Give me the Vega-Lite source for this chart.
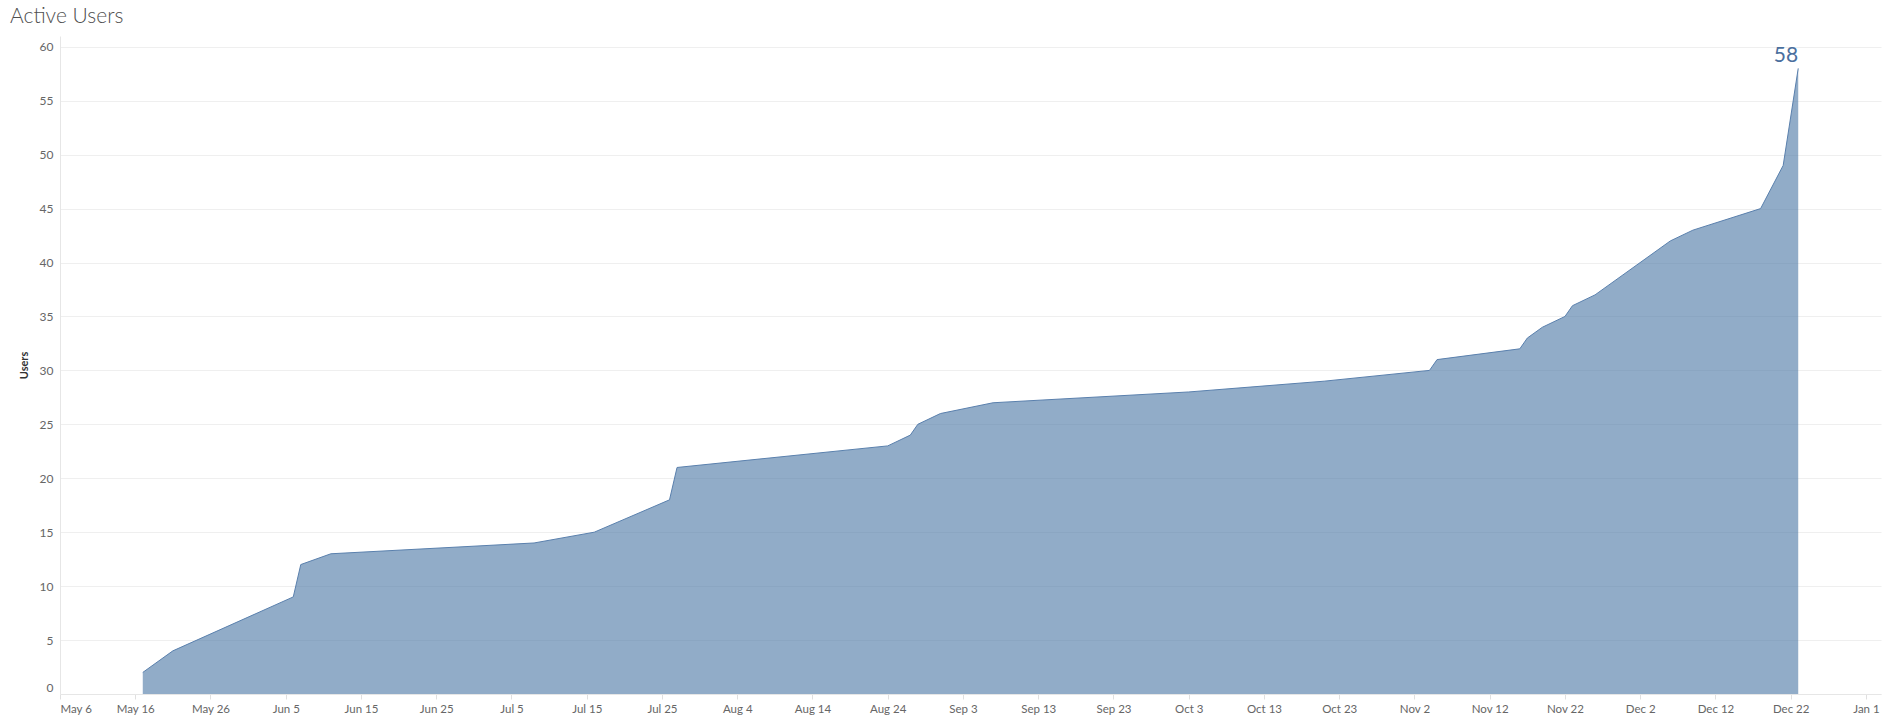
{
  "$schema": "https://vega.github.io/schema/vega-lite/v6.json",
  "width": 1821,
  "height": 658,
  "autosize": {"type": "none"},
  "padding": {"left": 60, "top": 36, "right": 9, "bottom": 33},
  "background": "white",
  "title": {"text": "Active Users", "anchor": "start", "frame": "group", "dx": -50, "offset": 9, "fontSize": 21, "font": "Lato", "fontWeight": 300, "color": "#4f4f4f"},
  "config": {"view": {"stroke": null}, "font": "Lato"},
  "data": {"values": [
    {"date": "2019-05-17", "users": 2},
    {"date": "2019-05-21", "users": 4},
    {"date": "2019-06-06", "users": 9},
    {"date": "2019-06-07", "users": 12},
    {"date": "2019-06-11", "users": 13},
    {"date": "2019-07-08", "users": 14},
    {"date": "2019-07-16", "users": 15},
    {"date": "2019-07-26", "users": 18},
    {"date": "2019-07-27", "users": 21},
    {"date": "2019-08-24", "users": 23},
    {"date": "2019-08-27", "users": 24},
    {"date": "2019-08-28", "users": 25},
    {"date": "2019-08-31", "users": 26},
    {"date": "2019-09-07", "users": 27},
    {"date": "2019-10-03", "users": 28},
    {"date": "2019-10-21", "users": 29},
    {"date": "2019-11-04", "users": 30},
    {"date": "2019-11-05", "users": 31},
    {"date": "2019-11-16", "users": 32},
    {"date": "2019-11-17", "users": 33},
    {"date": "2019-11-19", "users": 34},
    {"date": "2019-11-22", "users": 35},
    {"date": "2019-11-23", "users": 36},
    {"date": "2019-11-26", "users": 37},
    {"date": "2019-12-06", "users": 42},
    {"date": "2019-12-09", "users": 43},
    {"date": "2019-12-18", "users": 45},
    {"date": "2019-12-21", "users": 49},
    {"date": "2019-12-23", "users": 58}
  ]},
  "encoding": {
    "x": {
      "field": "date", "type": "temporal",
      "scale": {"type": "utc", "domain": [{"year": 2019, "month": 5, "date": 6, "utc": true}, {"year": 2020, "month": 1, "date": 3, "utc": true}]},
      "axis": {
        "title": null, "format": "%b %-d", "labelFlush": true, "labelOverlap": false, "grid": false,
        "domainColor": "#e6e6e6", "tickColor": "#e0e0e0", "tickSize": 5, "labelColor": "#666666", "labelFontSize": 11.5, "labelPadding": 4,
        "values": [
          {"year": 2019, "month": 5, "date": 6, "utc": true},
          {"year": 2019, "month": 5, "date": 16, "utc": true},
          {"year": 2019, "month": 5, "date": 26, "utc": true},
          {"year": 2019, "month": 6, "date": 5, "utc": true},
          {"year": 2019, "month": 6, "date": 15, "utc": true},
          {"year": 2019, "month": 6, "date": 25, "utc": true},
          {"year": 2019, "month": 7, "date": 5, "utc": true},
          {"year": 2019, "month": 7, "date": 15, "utc": true},
          {"year": 2019, "month": 7, "date": 25, "utc": true},
          {"year": 2019, "month": 8, "date": 4, "utc": true},
          {"year": 2019, "month": 8, "date": 14, "utc": true},
          {"year": 2019, "month": 8, "date": 24, "utc": true},
          {"year": 2019, "month": 9, "date": 3, "utc": true},
          {"year": 2019, "month": 9, "date": 13, "utc": true},
          {"year": 2019, "month": 9, "date": 23, "utc": true},
          {"year": 2019, "month": 10, "date": 3, "utc": true},
          {"year": 2019, "month": 10, "date": 13, "utc": true},
          {"year": 2019, "month": 10, "date": 23, "utc": true},
          {"year": 2019, "month": 11, "date": 2, "utc": true},
          {"year": 2019, "month": 11, "date": 12, "utc": true},
          {"year": 2019, "month": 11, "date": 22, "utc": true},
          {"year": 2019, "month": 12, "date": 2, "utc": true},
          {"year": 2019, "month": 12, "date": 12, "utc": true},
          {"year": 2019, "month": 12, "date": 22, "utc": true},
          {"year": 2020, "month": 1, "date": 1, "utc": true}
        ]
      }
    },
    "y": {
      "field": "users", "type": "quantitative",
      "scale": {"domain": [0, 61], "nice": false, "zero": true},
      "axis": {
        "title": "Users", "values": [0, 5, 10, 15, 20, 25, 30, 35, 40, 45, 50, 55, 60],
        "grid": true, "gridColor": "#efefef", "domainColor": "#e6e6e6", "ticks": false,
        "labelColor": "#666666", "labelFontSize": 12, "labelPadding": 7, "labelFlush": true,
        "titleFontSize": 11, "titleFontWeight": "bold", "titleColor": "#333333", "titlePadding": 10
      }
    }
  },
  "layer": [
    {"mark": {"type": "area", "color": "#4e79a7", "fillOpacity": 0.62, "line": {"color": "#5a80ad", "strokeWidth": 1}}},
    {
      "transform": [{"filter": "datum.users == 58"}],
      "mark": {"type": "text", "align": "right", "baseline": "alphabetic", "dy": -6, "fontSize": 21, "color": "#4a6f9e"},
      "encoding": {"text": {"field": "users", "type": "quantitative"}}
    }
  ]
}
